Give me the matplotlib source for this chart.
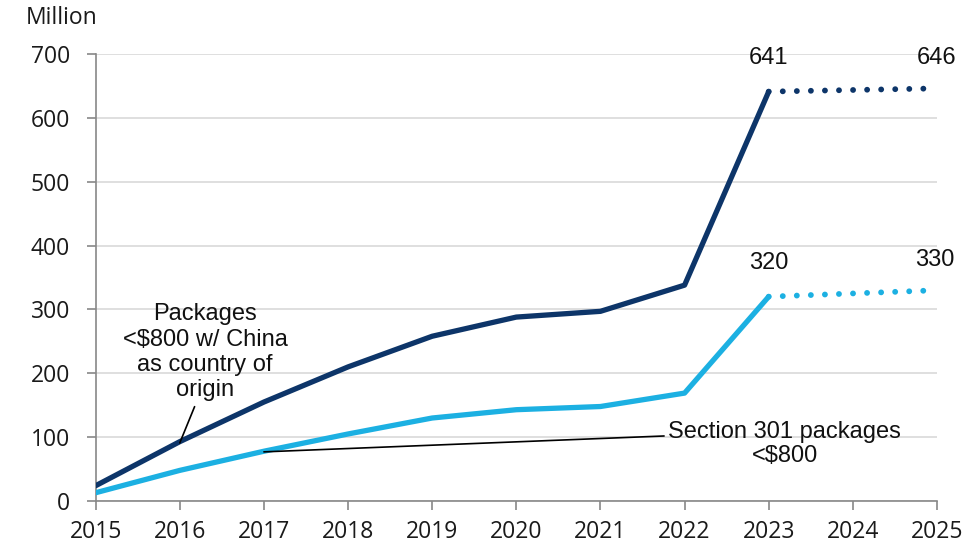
import matplotlib.pyplot as plt

years = [2015, 2016, 2017, 2018, 2019, 2020, 2021, 2022, 2023]
china = [24, 93, 155, 210, 258, 288, 297, 338, 641]
s301 = [13, 48, 78, 105, 130, 143, 148, 169, 320]
proj_years = [2023, 2025]
china_proj = [641, 646]
s301_proj = [320, 330]

dark = '#0d3569'
light = '#1cb0e2'

plt.rcParams['font.family'] = ['Open Sans', 'DejaVu Sans']

fig = plt.figure(figsize=(9.76, 5.5), dpi=100)
ax = fig.add_axes([0.098, 0.089, 0.862, 0.813])

ax.plot(years, china, color=dark, lw=3.8, solid_capstyle='round', solid_joinstyle='round', zorder=3)
ax.plot(years, s301, color=light, lw=3.8, solid_capstyle='round', solid_joinstyle='round', zorder=3)
ax.plot(proj_years, china_proj, color=dark, lw=4.2, linestyle=(0, (0.01, 2.4)),
        dash_capstyle='round', zorder=3)
ax.plot(proj_years, s301_proj, color=light, lw=4.2, linestyle=(0, (0.01, 2.4)),
        dash_capstyle='round', zorder=3)

ax.set_xlim(2015, 2025)
ax.set_ylim(0, 700)
ax.set_xticks(range(2015, 2026))
ax.set_yticks(range(0, 701, 100))
ax.tick_params(labelsize=16.5, colors='#1a1a1a', length=6.5, color='#888888', width=1.2)
ax.tick_params(axis='y', pad=12)
ax.tick_params(axis='x', pad=7)
ax.grid(axis='y', color='#d9d9d9', lw=1.2)
ax.set_axisbelow(True)
for s in ['top', 'right']:
    ax.spines[s].set_visible(False)
for s in ['left', 'bottom']:
    ax.spines[s].set_color('#888888')
    ax.spines[s].set_linewidth(1.2)

fig.text(0.026, 0.967, 'Million', fontsize=16.5, color='#1a1a1a', ha='left', va='center')

lab = dict(fontsize=17, family=['Liberation Sans', 'DejaVu Sans'], color='#111111',
           ha='center', va='center')
ax.text(2023.0, 693, str(china[-1]), **lab)
ax.text(2025.0, 694, str(china_proj[-1]), **lab)
ax.text(2023.0, 372, str(s301[-1]), **lab)
ax.text(2024.97, 377, str(s301_proj[-1]), **lab)

ax.annotate('Packages\n<$800 w/ China\nas country of\norigin', xy=(2016.0, 91),
            xytext=(2016.3, 233), ha='center', va='center', fontsize=17,
            family=['Liberation Sans', 'DejaVu Sans'], color='#111111', linespacing=1.2,
            arrowprops=dict(arrowstyle='-', color='black', lw=1.2, shrinkA=2, shrinkB=0,
                            relpos=(0.45, 0.0)))
ax.annotate('Section 301 packages\n<$800', xy=(2017.0, 77),
            xytext=(2023.19, 89), ha='center', va='center', fontsize=17,
            family=['Liberation Sans', 'DejaVu Sans'], color='#111111', linespacing=1.15,
            arrowprops=dict(arrowstyle='-', color='black', lw=1.2, shrinkA=1, shrinkB=0,
                            relpos=(0.0, 0.68)))

fig.savefig('out.png', dpi=100)
